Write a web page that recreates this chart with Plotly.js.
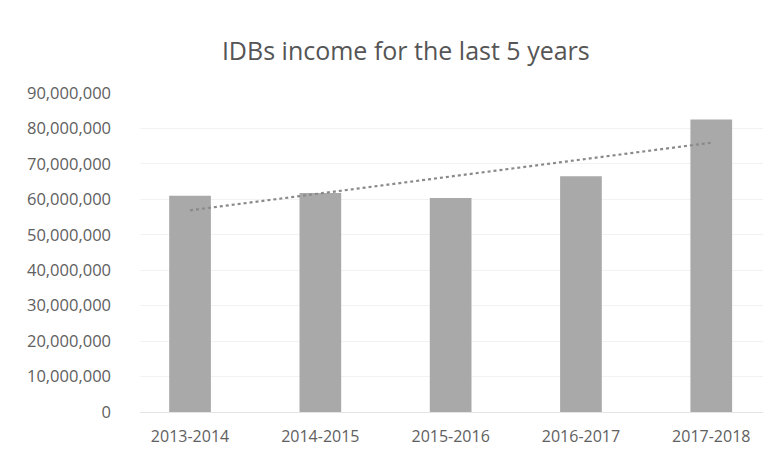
<!DOCTYPE html>
<html><head><meta charset="utf-8">
<script src="https://cdn.plot.ly/plotly-3.0.1.min.js"></script>
<style>html,body{margin:0;padding:0;background:#fff}#c{width:773px;height:457px}</style>
</head><body><div id="c"></div>
<script>
const categories = ["2013-2014","2014-2015","2015-2016","2016-2017","2017-2018"];
const income = [61000000, 61800000, 60400000, 66500000, 82500000];
const yTicks = [0,10000000,20000000,30000000,40000000,50000000,60000000,70000000,80000000,90000000];

// linear trendline (least squares) over the category index
const n = income.length;
const xs = income.map((_, i) => i);
const mx = xs.reduce((a,b)=>a+b,0)/n, my = income.reduce((a,b)=>a+b,0)/n;
let num = 0, den = 0;
xs.forEach((x,i)=>{num += (x-mx)*(income[i]-my); den += (x-mx)*(x-mx);});
const slope = num/den, icpt = my - slope*mx;
const trend = xs.map(x => icpt + slope*x);

const font = "Open Sans, Noto Sans, sans-serif";
Plotly.newPlot("c", [
  {type:"bar", x:categories, y:income, marker:{color:"#a9a9a9"}, hoverinfo:"none"},
  {type:"scatter", mode:"lines", x:categories, y:trend,
   line:{color:"#8a8a8a", width:2.2, dash:"dot"}, hoverinfo:"none"}
], {
  width:773, height:457,
  margin:{l:140, r:10, t:93, b:45},
  paper_bgcolor:"#fff", plot_bgcolor:"#fff",
  showlegend:false, bargap:0.68,
  title:{text:"IDBs income for the last 5 years", x:0.525, xanchor:"center", y:0.888, yanchor:"middle",
         font:{family:font, size:25, color:"#555"}},
  xaxis:{type:"category", range:[-0.384, 4.397], showgrid:false, zeroline:false, showline:false,
         ticks:"", tickfont:{family:font, size:16, color:"#606060"}, ticklabelstandoff:13},
  yaxis:{range:[0, 90000000], tickvals:yTicks, tickformat:",d", showgrid:true, gridcolor:"#f2f2f2",
         zeroline:true, zerolinecolor:"#e4e4e4", showline:false, ticks:"",
         tickfont:{family:font, size:16.5, color:"#606060"}, ticklabelstandoff:28}
}, {staticPlot:true});
</script></body></html>
